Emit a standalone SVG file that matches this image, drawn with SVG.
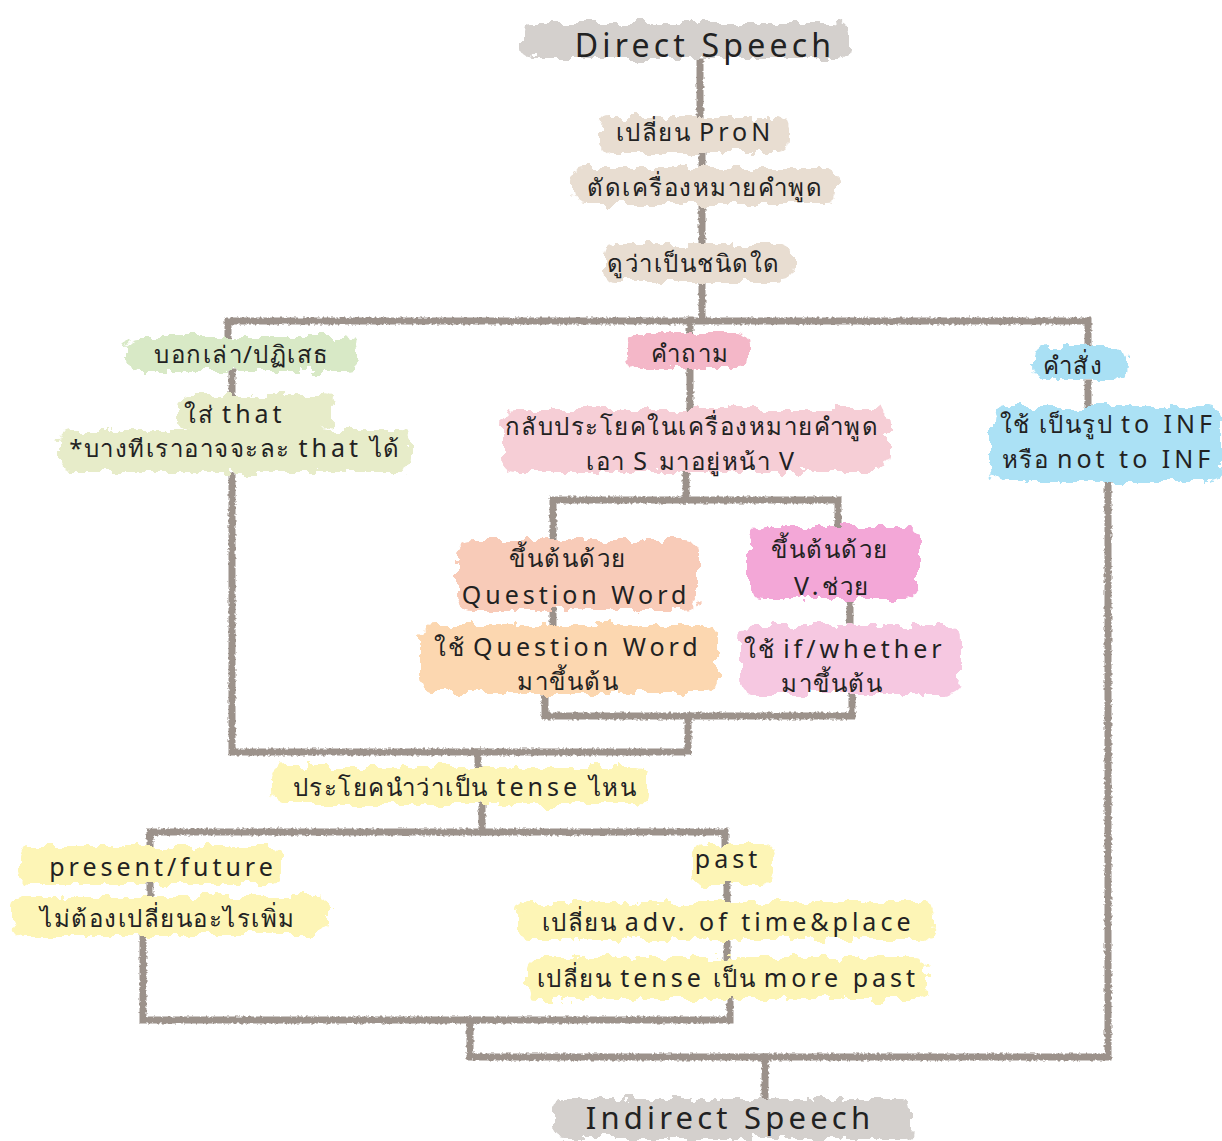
<svg xmlns="http://www.w3.org/2000/svg" width="1222" height="1141" viewBox="0 0 1222 1141">
<defs>
<filter id="blob" x="-10%" y="-30%" width="120%" height="160%">
<feTurbulence type="fractalNoise" baseFrequency="0.07" numOctaves="3" seed="3" result="n"/>
<feDisplacementMap in="SourceGraphic" in2="n" scale="16" xChannelSelector="R" yChannelSelector="G"/>
</filter>
<filter id="rough" filterUnits="userSpaceOnUse" x="0" y="0" width="1222" height="1141">
<feTurbulence type="fractalNoise" baseFrequency="0.35" numOctaves="2" seed="7" result="n"/>
<feDisplacementMap in="SourceGraphic" in2="n" scale="4" xChannelSelector="R" yChannelSelector="G"/>
</filter>
<style>
.t{font-family:"Noto Sans","DejaVu Sans",sans-serif;font-size:24px;fill:#222;text-anchor:middle;dominant-baseline:central;letter-spacing:1.5px}
.en{font-size:25px;letter-spacing:4px}
.big{font-size:32px;letter-spacing:4.2px}
.bg{filter:url(#blob)}
.c{fill:none;stroke:#9c928b;stroke-width:7;stroke-linecap:square;stroke-linejoin:miter;filter:url(#rough)}
</style>
</defs>
<rect width="1222" height="1141" fill="#fff"/>
<g id="connectors">
<path class="c" d="M700,62 V115"/>
<path class="c" d="M702,152 V168"/>
<path class="c" d="M702,205 V245"/>
<path class="c" d="M702,282 V320"/>
<path class="c" d="M228,345 V321 H1088 V352"/>
<path class="c" d="M690,320 V332"/>
<path class="c" d="M232,372 V395"/>
<path class="c" d="M232,476 V752 H688 V716"/>
<path class="c" d="M690,370 V412"/>
<path class="c" d="M686,470 V500"/>
<path class="c" d="M553,545 V500 H838 V527"/>
<path class="c" d="M553,608 V628"/>
<path class="c" d="M850,600 V628"/>
<path class="c" d="M545,692 V716 H852 V692"/>
<path class="c" d="M478,752 V772"/>
<path class="c" d="M482,805 V832"/>
<path class="c" d="M150,850 V832 H725 V848"/>
<path class="c" d="M150,884 V898"/>
<path class="c" d="M143,937 V1020 H730 V998"/>
<path class="c" d="M727,882 V903"/>
<path class="c" d="M727,940 V958"/>
<path class="c" d="M470,1020 V1057 H1108 V485"/>
<path class="c" d="M1088,383 V405"/>
<path class="c" d="M765,1057 V1097"/>
</g>
<g id="direct-speech"><rect class="bg" x="522" y="22" width="326" height="36" rx="10" fill="#d4d0cd"/><text class="t big" x="705" y="44">Direct Speech</text></g>
<g id="pron"><rect class="bg" x="600" y="117" width="188" height="36" rx="12" fill="#e8ddd1"/><text class="t" x="695" y="131">เปลี่ยน <tspan class="en">ProN</tspan></text></g>
<g id="cut-quote"><rect class="bg" x="572" y="168" width="266" height="36" rx="12" fill="#e8ddd1"/><text class="t" x="705" y="186">ตัดเครื่องหมายคำพูด</text></g>
<g id="type"><rect class="bg" x="602" y="244" width="190" height="38" rx="12" fill="#e8ddd1"/><text class="t" x="694" y="262">ดูว่าเป็นชนิดใด</text></g>
<g id="statement"><rect class="bg" x="126" y="337" width="232" height="34" rx="12" fill="#d8e9c6"/><text class="t" x="242" y="353">บอกเล่า/ปฏิเสธ</text></g>
<g id="that"><rect class="bg" x="178" y="396" width="156" height="34" rx="10" fill="#e7ecc9"/><rect class="bg" x="58" y="430" width="354" height="42" rx="12" fill="#e7ecc9"/><text class="t" x="235" y="413">ใส่ <tspan class="en">that</tspan></text><text class="t" x="235" y="447">*บางทีเราอาจจะละ <tspan class="en">that</tspan> ได้</text></g>
<g id="question"><rect class="bg" x="628" y="333" width="120" height="36" rx="12" fill="#f4b7c8"/><text class="t" x="690" y="352">คำถาม</text></g>
<g id="swap"><rect class="bg" x="502" y="410" width="386" height="62" rx="14" fill="#f6ced6"/><text class="t" x="692" y="425">กลับประโยคในเครื่องหมายคำพูด</text><text class="t" x="692" y="460">เอา <tspan class="en">S</tspan> มาอยู่หน้า <tspan class="en">V</tspan></text></g>
<g id="command"><rect class="bg" x="1032" y="346" width="96" height="34" rx="12" fill="#a9e0f4"/><text class="t" x="1073" y="364">คำสั่ง</text></g>
<g id="to-inf"><rect class="bg" x="992" y="406" width="230" height="76" rx="14" fill="#abe1f5"/><text class="t" x="1108" y="423">ใช้ เป็นรูป <tspan class="en">to INF</tspan></text><text class="t" x="1108" y="458">หรือ <tspan class="en">not to INF</tspan></text></g>
<g id="qword"><rect class="bg" x="458" y="540" width="240" height="70" rx="14" fill="#f8cbb8"/><text class="t" x="568" y="557">ขึ้นต้นด้วย</text><text class="t en" x="576" y="594">Question Word</text></g>
<g id="use-qword"><rect class="bg" x="420" y="625" width="298" height="68" rx="14" fill="#fcd7b0"/><text class="t" x="568" y="646">ใช้ <tspan class="en">Question Word</tspan></text><text class="t" x="568" y="680">มาขึ้นต้น</text></g>
<g id="aux"><rect class="bg" x="750" y="527" width="168" height="72" rx="14" fill="#f3a7d7"/><text class="t" x="830" y="548">ขึ้นต้นด้วย</text><text class="t" x="832" y="585"><tspan class="en">V.</tspan>ช่วย</text></g>
<g id="if-whether"><rect class="bg" x="740" y="626" width="220" height="68" rx="14" fill="#f6c8e1"/><text class="t" x="845" y="648">ใช้ <tspan class="en">if/whether</tspan></text><text class="t" x="832" y="682">มาขึ้นต้น</text></g>
<g id="tense"><rect class="bg" x="272" y="767" width="376" height="38" rx="12" fill="#fdf5b6"/><text class="t" x="465" y="786">ประโยคนำว่าเป็น <tspan class="en">tense</tspan> ไหน</text></g>
<g id="present"><rect class="bg" x="18" y="846" width="264" height="38" rx="12" fill="#fdf5b6"/><text class="t en" x="163" y="866">present/future</text></g>
<g id="no-change"><rect class="bg" x="12" y="897" width="316" height="38" rx="12" fill="#fdf5b6"/><text class="t" x="168" y="917">ไม่ต้องเปลี่ยนอะไรเพิ่ม</text></g>
<g id="past"><rect class="bg" x="692" y="845" width="82" height="40" rx="12" fill="#fdf5b6"/><text class="t en" x="728" y="858">past</text></g>
<g id="adv"><rect class="bg" x="517" y="902" width="416" height="38" rx="12" fill="#fdf5b6"/><text class="t" x="728" y="921">เปลี่ยน <tspan class="en">adv. of time&amp;place</tspan></text></g>
<g id="more-past"><rect class="bg" x="527" y="957" width="400" height="42" rx="12" fill="#fdf5b6"/><text class="t" x="728" y="977">เปลี่ยน <tspan class="en">tense</tspan> เป็น <tspan class="en">more past</tspan></text></g>
<g id="indirect-speech"><rect class="bg" x="552" y="1099" width="360" height="40" rx="10" fill="#d4d0cd"/><text class="t big" x="730" y="1117" style="font-size:31px">Indirect Speech</text></g>
</svg>
